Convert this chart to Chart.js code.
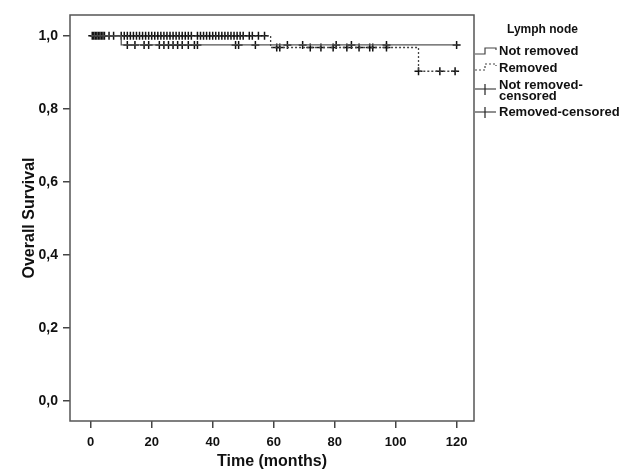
<!DOCTYPE html>
<html>
<head>
<meta charset="utf-8">
<script src="https://cdn.jsdelivr.net/npm/chart.js@4/dist/chart.umd.min.js"></script>
<style>
  html, body { margin: 0; padding: 0; background: #fff; }
  #wrap { position: relative; width: 623px; height: 471px; }
  #chart { position: absolute; left: 0; top: 0; }
  .lg { position: absolute; font-family: "Liberation Sans", Arial, sans-serif; font-weight: bold; font-size: 13px; color: #111; line-height: 11px; white-space: nowrap; }
  svg.sym { position: absolute; }
</style>
</head>
<body>
<div id="wrap">
  <canvas id="chart" width="623" height="471"></canvas>
  <div class="lg" style="left:507px;top:24px;font-size:12px;">Lymph node</div>
  <svg class="sym" style="left:474px;top:44px" width="26" height="14">
    <polyline points="1,10 11,10 11,4 22,4 22,6" fill="none" stroke="#444" stroke-width="1.2"/>
  </svg>
  <div class="lg" style="left:499px;top:45px;">Not removed</div>
  <svg class="sym" style="left:474px;top:60px" width="26" height="14">
    <polyline points="1,10 11,10 11,4 22,4 22,6" fill="none" stroke="#444" stroke-width="1.2" stroke-dasharray="2,2"/>
  </svg>
  <div class="lg" style="left:499px;top:62px;">Removed</div>
  <svg class="sym" style="left:474px;top:82px" width="26" height="14">
    <line x1="1" y1="7" x2="22" y2="7" stroke="#444" stroke-width="1.2"/>
    <line x1="11" y1="2" x2="11" y2="13" stroke="#222" stroke-width="1.2"/>
  </svg>
  <div class="lg" style="left:499px;top:79px;">Not removed-<br>censored</div>
  <svg class="sym" style="left:474px;top:105px" width="26" height="14">
    <line x1="1" y1="7" x2="22" y2="7" stroke="#444" stroke-width="1.2"/>
    <line x1="11" y1="2" x2="11" y2="13" stroke="#222" stroke-width="1.2"/>
  </svg>
  <div class="lg" style="left:499px;top:106px;">Removed-censored</div>
</div>
<script>
// axis ticks
const xTicks = [0, 20, 40, 60, 80, 100, 120];
const yTicks = [0, 0.2, 0.4, 0.6, 0.8, 1.0];
const yTickLabels = ['0,0', '0,2', '0,4', '0,6', '0,8', '1,0'];

// survival steps (time of drop, survival after drop)
const notRemovedTimes = [0, 10, 120];
const notRemovedSurv = [1.0, 0.975, 0.975];
const removedTimes = [0, 59, 107.5, 120];
const removedSurv = [1.0, 0.968, 0.903, 0.903];

// censored times
const notRemovedCensored = [12, 14.5, 17.5, 19, 22.5, 24, 25.5, 27, 28.5, 30, 32, 34, 35, 47.5, 48.5, 54,
  64.5, 69.5, 80.5, 85.5, 97, 120];
const removedCensored = [0.5, 1, 1.5, 2, 2.5, 3, 3.5, 4, 4.5, 6, 7.5,
  10, 11, 12, 13, 14, 15, 16, 17, 18, 19, 20, 21, 22, 23, 24, 25, 26, 27, 28, 29, 30, 31, 32, 33,
  35, 36, 37, 38, 39, 40, 41, 42, 43, 44, 45, 46, 47, 48, 49, 50, 52, 53, 55, 57,
  61, 62, 72, 75.5, 79.5, 84, 88, 91.5, 92.5, 97, 107.5, 114.5, 119.5];

function stepPoints(times, surv) {
  const pts = [{ x: times[0], y: surv[0] }];
  for (let i = 1; i < times.length; i++) {
    pts.push({ x: times[i], y: surv[i - 1] });
    pts.push({ x: times[i], y: surv[i] });
  }
  return pts;
}

function survAt(times, surv, t) {
  let s = surv[0];
  for (let i = 0; i < times.length; i++) {
    if (times[i] <= t) s = surv[i];
  }
  return s;
}

// box round the plot
const frame = {
  id: 'frame',
  beforeDatasetsDraw(chart) {
    const { ctx, chartArea: a } = chart;
    ctx.save();
    ctx.strokeStyle = '#555';
    ctx.lineWidth = 1.5;
    ctx.strokeRect(a.left, a.top, a.right - a.left, a.bottom - a.top);
    ctx.restore();
  }
};

const family = '"Liberation Sans", Arial, sans-serif';

new Chart(document.getElementById('chart'), {
  type: 'scatter',
  data: {
    datasets: [
      {
        label: 'Not removed',
        data: stepPoints(notRemovedTimes, notRemovedSurv),
        showLine: true, pointRadius: 0, borderColor: '#555', borderWidth: 1.3
      },
      {
        label: 'Removed',
        data: stepPoints(removedTimes, removedSurv),
        showLine: true, pointRadius: 0, borderColor: '#444', borderWidth: 1.3, borderDash: [2, 2]
      },
      {
        label: 'Not removed-censored',
        data: notRemovedCensored.map(t => ({ x: t, y: survAt(notRemovedTimes, notRemovedSurv, t) })),
        pointStyle: 'cross', pointRadius: 4, borderColor: '#111', borderWidth: 1.5
      },
      {
        label: 'Removed-censored',
        data: removedCensored.map(t => ({ x: t, y: survAt(removedTimes, removedSurv, t) })),
        pointStyle: 'cross', pointRadius: 4, borderColor: '#111', borderWidth: 1.5
      }
    ]
  },
  options: {
    animation: false,
    responsive: false,
    layout: { padding: { left: 0, top: 15, right: 149, bottom: 0 } },
    plugins: { legend: { display: false }, tooltip: { enabled: false } },
    scales: {
      x: {
        type: 'linear', min: -6.8, max: 125.7,
        afterBuildTicks: s => { s.ticks = xTicks.map(v => ({ value: v })); },
        afterFit: s => { s.height = 50; },
        border: { display: false },
        grid: { drawOnChartArea: false, drawTicks: true, tickLength: 7, color: '#444', lineWidth: 1.5 },
        ticks: { color: '#111', font: { family, weight: 'bold', size: 13 }, padding: 7, maxRotation: 0 },
        title: { display: true, text: 'Time (months)', color: '#111', font: { family, weight: 'bold', size: 16 }, padding: { top: 0, bottom: 0 } }
      },
      y: {
        type: 'linear', min: -0.055, max: 1.057,
        afterBuildTicks: s => { s.ticks = yTicks.map(v => ({ value: v })); },
        afterFit: s => { s.width = 70; },
        border: { display: false },
        grid: { drawOnChartArea: false, drawTicks: true, tickLength: 7, color: '#444', lineWidth: 1.5 },
        ticks: { color: '#111', font: { family, weight: 'bold', size: 14 }, padding: 5, callback: v => yTickLabels[yTicks.indexOf(v)] },
        title: { display: true, text: 'Overall Survival', color: '#111', font: { family, weight: 'bold', size: 16 }, padding: { top: 20, bottom: 0 } }
      }
    }
  },
  plugins: [frame]
});
</script>
</body>
</html>
